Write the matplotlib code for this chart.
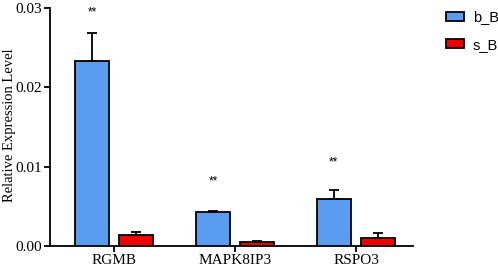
import numpy as np
import matplotlib.pyplot as plt
from matplotlib.patches import Patch

genes = ["RGMB", "MAPK8IP3", "RSPO3"]
b_mean = [0.0233, 0.00433, 0.0059]
b_err = [0.0035, 0.00012, 0.0011]
s_mean = [0.00143, 0.0005, 0.00105]
s_err = [0.00037, 0.0001, 0.00065]
sig = ["**", "**", "**"]
sig_y = [0.0295, 0.0081, 0.0105]

blue = "#5a9cf0"
red = "#f00000"

def main():
    fig = plt.figure(figsize=(4.98, 2.72), dpi=100)
    ax = fig.add_axes([0.1004, 0.0956, 0.7286, 0.875])
    x = np.arange(len(genes))
    w = 0.28
    off = 0.183
    ax.bar(x - off, b_mean, w, color=blue, edgecolor="black", linewidth=1.3,
           yerr=[np.zeros(3), b_err], capsize=3.5,
           error_kw=dict(elinewidth=1.3, capthick=1.3, ecolor="black"), zorder=3)
    ax.bar(x + off, s_mean, w, color=red, edgecolor="black", linewidth=1.3,
           yerr=[np.zeros(3), s_err], capsize=3.5,
           error_kw=dict(elinewidth=1.3, capthick=1.3, ecolor="black"), zorder=3)
    for xi, s, yy in zip(x, sig, sig_y):
        ax.text(xi - off, yy, s, ha="center", va="center", fontsize=8.5,
                family="Liberation Sans")

    ax.set_xlim(-0.53, 2.47)
    ax.set_ylim(0, 0.03)
    ax.set_yticks([0, 0.01, 0.02, 0.03])
    ax.set_yticklabels(["0.00", "0.01", "0.02", "0.03"])
    ax.set_xticks(x)
    ax.set_xticklabels(genes)
    for lab in ax.get_xticklabels() + ax.get_yticklabels():
        lab.set_family("Liberation Serif")
        lab.set_fontsize(11)
    ax.set_ylabel("Relative Expression Level", family="Liberation Serif", fontsize=10.5)
    ax.yaxis.set_label_coords(-0.095, 0.508)
    ax.spines["top"].set_visible(False)
    ax.spines["right"].set_visible(False)
    ax.spines["left"].set_linewidth(1.3)
    ax.spines["bottom"].set_linewidth(1.3)
    ax.tick_params(axis="both", width=1.3, length=4, pad=2)

    handles = [Patch(facecolor=blue, edgecolor="black", linewidth=1.3, label="b_B"),
               Patch(facecolor=red, edgecolor="black", linewidth=1.3, label="s_B")]
    fig.legend(handles=handles, loc="upper left", bbox_to_anchor=(0.87, 1.01),
               frameon=False, prop={"family": "Liberation Sans", "size": 10.5},
               handlelength=1.2, handleheight=0.6, labelspacing=0.9, handletextpad=0.6)

    fig.savefig("out.png", dpi=100)

if __name__ == "__main__":
    main()
